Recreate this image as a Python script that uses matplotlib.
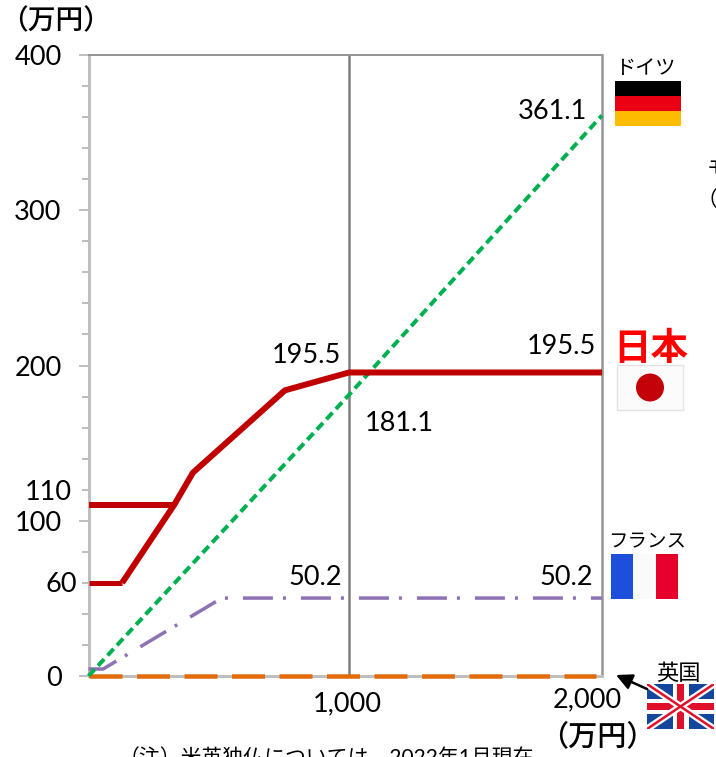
import matplotlib
matplotlib.use("Agg")
import matplotlib.pyplot as plt
import numpy as np
from matplotlib.patches import Ellipse, FancyArrowPatch, Rectangle
from matplotlib.ticker import FixedLocator, NullFormatter

plt.rcParams["font.family"] = ["Lato", "Noto Sans CJK JP", "DejaVu Sans"]

W, H = 716, 757
NUM_SIZE = 19.5

japan_lower_x = [0, 129, 328, 401, 754, 1000, 2000]
japan_lower_y = [60, 60, 110, 131, 184, 195.5, 195.5]
japan_upper_x = [0, 328]
japan_upper_y = [110, 110]
germany_x = [0, 1000, 2000]
germany_y = [0, 181.1, 361.1]
france_x = [0, 56, 512, 1000, 2000]
france_y = [4.5, 4.5, 50.2, 50.2, 50.2]
uk_x = [0, 1975]
uk_y = [0, 0]

y_major = [0, 100, 200, 300, 400]
y_minor = list(range(0, 401, 20))
x_major = [1000]

# the 0-1000 half of the x axis is drawn slightly wider than the upper half
x_knots = [0, 1000, 2000]
x_pos = [0, 260.5, 513.5]


def forward(v):
    return np.interp(v, x_knots, x_pos)


def inverse(v):
    return np.interp(v, x_pos, x_knots)


def px(n):
    return n * 72 / fig.dpi


def label(x, y, s, size=NUM_SIZE, ha="center", **kw):
    fig.text(x / W, 1 - (y + 1.5) / H, s, fontsize=size, ha=ha, va="center", **kw)


def flag_axes(x0, y0, x1, y1):
    a = fig.add_axes([x0 / W, 1 - y1 / H, (x1 - x0) / W, (y1 - y0) / H])
    a.set_xlim(0, 1)
    a.set_ylim(0, 1)
    a.axis("off")
    return a


fig = plt.figure(figsize=(W / 100, H / 100), dpi=100)
ax = fig.add_axes([88.5 / W, 1 - 676 / H, 513.5 / W, 621 / H])
ax.set_xscale("function", functions=(forward, inverse))
ax.set_xlim(0, 2000)
ax.set_ylim(0, 400)

ax.spines["top"].set_color("#969696")
ax.spines["top"].set_linewidth(px(2))
ax.spines["right"].set_color("#969696")
ax.spines["right"].set_linewidth(px(2.5))
for name in ("left", "bottom"):
    ax.spines[name].set_color("#bfbfbf")
    ax.spines[name].set_linewidth(px(3))

ax.yaxis.set_major_locator(FixedLocator(y_major))
ax.yaxis.set_minor_locator(FixedLocator(y_minor))
ax.set_yticklabels([str(v) for v in y_major])
ax.yaxis.set_minor_formatter(NullFormatter())
ax.tick_params(axis="y", which="major", length=px(10), width=px(2), color="#bfbfbf",
               labelsize=NUM_SIZE, pad=px(17))
ax.tick_params(axis="y", which="minor", length=px(7), width=px(2), color="#bfbfbf")
ax.xaxis.set_major_locator(FixedLocator(x_major))
ax.xaxis.set_minor_locator(FixedLocator([]))
ax.tick_params(axis="x", which="both", length=0, labelbottom=False)

ax.axvline(1000, color="#808080", lw=px(2.5), zorder=1)

ax.plot(uk_x, uk_y, color="#e36c0a", lw=px(4.5), dashes=(33 / 4.5, 14.5 / 4.5),
        dash_capstyle="butt", clip_on=False, zorder=3)
ax.plot(france_x, france_y, color="#8e72b4", lw=px(3.5), dashes=(30 / 3.5, 10 / 3.5, 3 / 3.5, 15 / 3.5),
        dash_capstyle="butt", clip_on=False, zorder=3)
ax.plot(germany_x, germany_y, color="#00b050", lw=px(4), dashes=(9 / 4, 5 / 4),
        dash_capstyle="butt", clip_on=False, zorder=3)
ax.plot(japan_upper_x, japan_upper_y, color="#c00000", lw=px(6), solid_capstyle="butt", clip_on=False, zorder=4)
ax.plot(japan_lower_x[:2], japan_lower_y[:2], color="#c00000", lw=px(5), solid_capstyle="butt", clip_on=False, zorder=4)
ax.plot(japan_lower_x[1:], japan_lower_y[1:], color="#c00000", lw=px(6), solid_capstyle="butt",
        solid_joinstyle="miter", clip_on=False, zorder=4)

# hand placed axis and value labels
label(56, 20, "（万円）", size=20, fontweight="medium")
label(597, 735, "（万円）", size=21, fontweight="medium")
label(48, 491, "110")
label(61, 583, "60")
label(347, 702, "1,000")
label(587, 698, "2,000")
label(552, 110, f"{germany_y[-1]}")
label(306, 354, f"{japan_lower_y[5]}")
label(561, 345, f"{japan_lower_y[-1]}")
label(399, 422, f"{germany_y[1]}")
label(315, 576, f"{france_y[2]}")
label(566, 576, f"{france_y[3]}")
label(326, 756, "（注）米英独仏については、2022年1月現在", size=15)
label(707, 167, "モ", size=15, ha="left")
label(697, 198, "（", size=15, ha="left")

label(645, 67, "ドイツ", size=14.5)
label(647, 540, "フランス", size=14)
label(678, 672, "英国", size=16)
label(651, 347, "日本", size=27, color="#ff0000", fontweight="bold")

# Germany
fa = flag_axes(615, 81, 681, 126)
for y0, c in zip((2 / 3, 1 / 3, 0), ("#000000", "#eb0013", "#fdbc00")):
    fa.add_patch(Rectangle((0, y0), 1, 1 / 3, color=c, lw=0))

# Japan
fa = flag_axes(617, 365, 683, 410)
fa.add_patch(Rectangle((0, 0), 1, 1, facecolor="#fbfbfb", edgecolor="#e2e2e2", lw=1, clip_on=False))
fa.add_patch(Ellipse((0.5, 0.5), 28 / 66, 28 / 45, color="#c40008", lw=0))

# France
fa = flag_axes(611, 554, 678, 599)
for x0, c in zip((0, 1 / 3, 2 / 3), ("#1d4fdc", "#fafafa", "#e8002d")):
    fa.add_patch(Rectangle((x0, 0), 1 / 3, 1, facecolor=c, lw=0))

# UK
fa = flag_axes(647, 684, 714, 729)
fa.add_patch(Rectangle((0, 0), 1, 1, color="#14479c", lw=0))
fa.plot([0, 1], [0, 1], color="white", lw=px(7), solid_capstyle="butt")
fa.plot([0, 1], [1, 0], color="white", lw=px(7), solid_capstyle="butt")
fa.plot([0, 1], [0, 1], color="#e0102a", lw=px(2.5), solid_capstyle="butt")
fa.plot([0, 1], [1, 0], color="#e0102a", lw=px(2.5), solid_capstyle="butt")
fa.add_patch(Rectangle((0.39, 0), 0.23, 1, color="white", lw=0))
fa.add_patch(Rectangle((0, 0.33), 1, 0.34, color="white", lw=0))
fa.add_patch(Rectangle((0.45, 0), 0.1, 1, color="#e0102a", lw=0))
fa.add_patch(Rectangle((0, 0.42), 1, 0.15, color="#e0102a", lw=0))

# arrow pointing at the zero line for the UK
fig.add_artist(FancyArrowPatch(
    (647 / W, 1 - 689 / H), (616 / W, 1 - 675 / H), transform=fig.transFigure,
    arrowstyle="-|>", mutation_scale=24, color="black", lw=px(2.5), shrinkA=0, shrinkB=0))

fig.savefig("out.png", dpi=100)
